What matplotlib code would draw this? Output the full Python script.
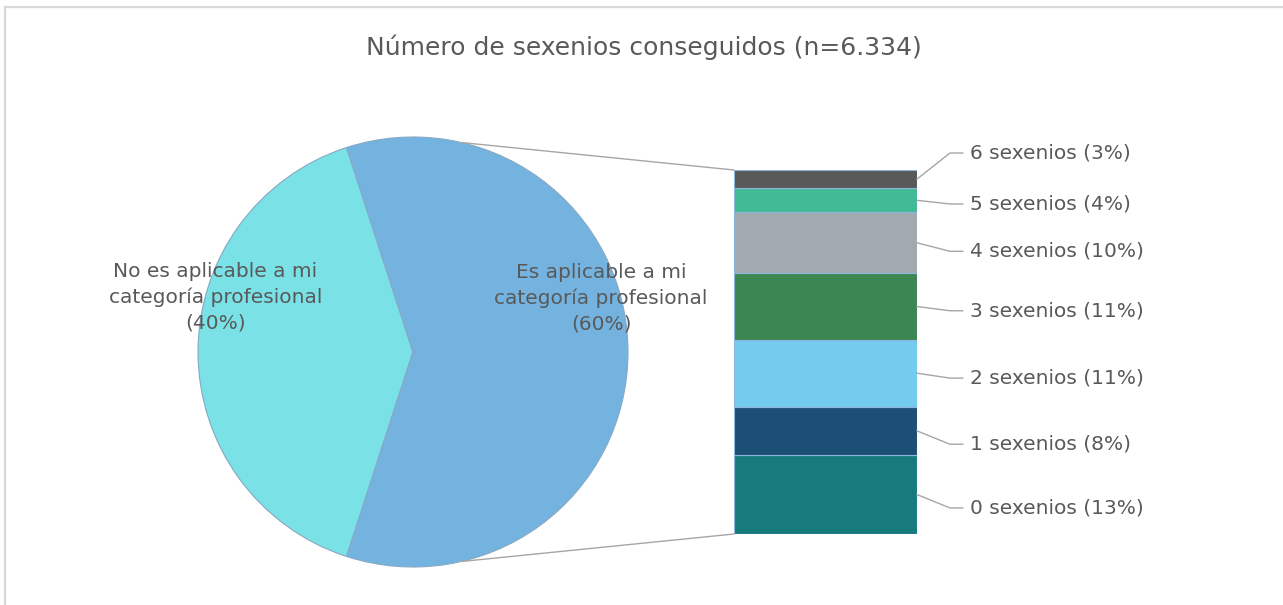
import matplotlib.pyplot as plt
import numpy as np
from matplotlib.patches import ConnectionPatch
from matplotlib.lines import Line2D

plt.rcParams['font.family'] = ['DejaVu Sans']

# data
pie_labels = ['No es aplicable a mi\ncategoría profesional', 'Es aplicable a mi\ncategoría profesional']
pie_values = [40, 60]
pie_colors = ['#7AE1E6', '#74B3E0']

bar_labels = ['0 sexenios', '1 sexenios', '2 sexenios', '3 sexenios', '4 sexenios', '5 sexenios', '6 sexenios']
bar_values = [13, 8, 11, 11, 10, 4, 3]
bar_colors = ['#177B7E', '#1B4F75', '#73CBEE', '#3C8652', '#A1AAB0', '#43BA96', '#595959']
label_y = [4.3, 14.8, 25.7, 36.8, 46.6, 54.4, 62.8]

title = 'Número de sexenios conseguidos (n=6.334)'
txt = '#595959'
line_c = '#A6A6A6'

W, H = 1283, 605
fig = plt.figure(figsize=(W / 100, H / 100), dpi=100)

# chart area border (top + left only are visible)
fig.add_artist(Line2D([4.5 / W, 4.5 / W], [0, 1 - 7 / H], color='#D9D9D9', lw=1.6))
fig.add_artist(Line2D([4.5 / W, 1], [1 - 7 / H, 1 - 7 / H], color='#D9D9D9', lw=1.6))

fig.text(644 / W, 1 - 47 / H, title, ha='center', va='center', fontsize=18, color=txt)

# pie
ax_p = fig.add_axes([198 / W, (H - 567) / H, 430 / W, 430 / H])
wedges, _ = ax_p.pie(pie_values, colors=pie_colors, startangle=108, counterclock=True,
                     radius=1, wedgeprops=dict(edgecolor='#86A9C4', linewidth=0.8))
ax_p.set_xlim(-1, 1)
ax_p.set_ylim(-1, 1)
ax_p.set_aspect('equal')
ax_p.axis('off')

pie_txt_pos = [(-0.92, 0.255), (0.875, 0.25)]
for lab, v, (x, y) in zip(pie_labels, pie_values, pie_txt_pos):
    ax_p.text(x, y, f'{lab}\n({v}%)', ha='center', va='center', fontsize=14.5,
              color=txt, linespacing=1.4)

# stacked bar
total = sum(bar_values)
ax_b = fig.add_axes([734 / W, (H - 534) / H, 183 / W, 364 / H])
bottom = 0
mids = []
for v, c in zip(bar_values, bar_colors):
    ax_b.bar(0, v, width=1, bottom=bottom, color=c, edgecolor='#8DB6DC', linewidth=0.8)
    mids.append(bottom + v / 2)
    bottom += v
ax_b.set_xlim(-0.5, 0.5)
ax_b.set_ylim(0, total)
ax_b.axis('off')

# labels with leader lines (bent, short horizontal piece next to the text)
for lab, v, m, ly in zip(bar_labels, bar_values, mids, label_y):
    ax_b.plot([0.5, 0.68, 0.75], [m, ly, ly], color=line_c, lw=1, clip_on=False)
    ax_b.text(0.79, ly, f'{lab} ({v}%)', ha='left', va='center', fontsize=14.5, color=txt)

# connector lines pie -> bar
ang = np.deg2rad(77)
for sgn, yb in [(1, total), (-1, 0)]:
    con = ConnectionPatch(xyA=(np.cos(ang), sgn * np.sin(ang)), coordsA=ax_p.transData,
                          xyB=(-0.5, yb), coordsB=ax_b.transData, color=line_c, lw=1)
    fig.add_artist(con)

plt.savefig('out.png', dpi=100)
